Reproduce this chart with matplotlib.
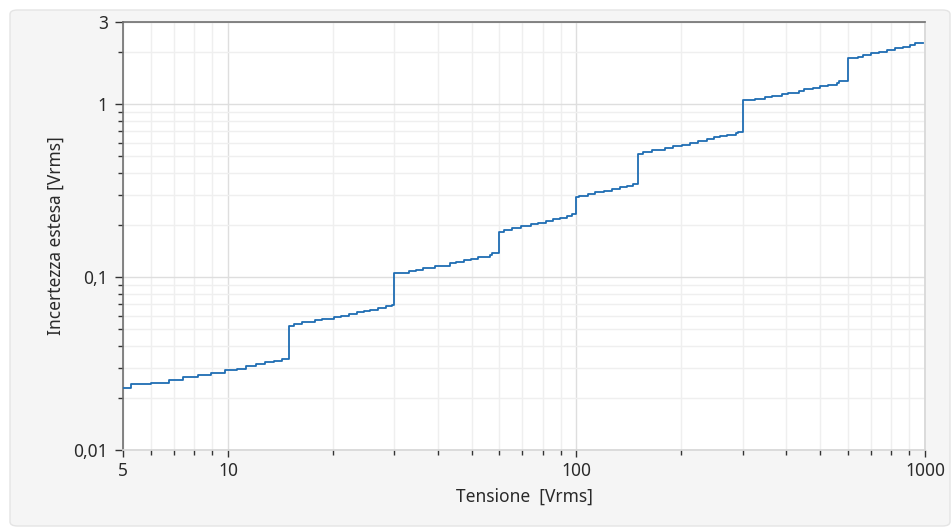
import matplotlib
matplotlib.use("Agg")
import matplotlib.pyplot as plt
from matplotlib.patches import FancyBboxPatch
from matplotlib.ticker import FixedLocator, NullFormatter

plt.rcParams['font.family'] = ['Noto Sans', 'DejaVu Sans']

# step start voltage [Vrms] and expanded uncertainty [Vrms], one list per range
volts_5 = [5, 5.27, 6.0, 6.77, 7.44, 8.2, 8.92, 9.8, 10.6, 11.3, 12.0, 12.8, 13.6, 14.3]
unc_5 = [0.0228, 0.0240, 0.0245, 0.0254, 0.0264, 0.0272, 0.0278, 0.0289, 0.0294, 0.0305, 0.0314, 0.0323, 0.0327, 0.0338]

volts_15 = [15, 15.5, 16.3, 17.8, 18.6, 20.1, 21.1, 22.3, 23.4, 24.5, 25.6, 26.9, 28.5, 29.5]
unc_15 = [0.0520, 0.0534, 0.0551, 0.0563, 0.0573, 0.0589, 0.0600, 0.0612, 0.0627, 0.0638, 0.0650, 0.0664, 0.0679, 0.0695]

volts_30 = [30, 33.1, 34.6, 36.3, 39.3, 43.4, 45.1, 47.6, 49.7, 52.3, 56.5, 57.4]
unc_30 = [0.1059, 0.1083, 0.1108, 0.1132, 0.1169, 0.1201, 0.1227, 0.1250, 0.1277, 0.1306, 0.1347, 0.1377]

volts_60 = [60, 62.0, 65.5, 69.5, 73.9, 77.6, 81.6, 85.9, 89.8, 93.8, 97.4]
unc_60 = [0.1831, 0.1880, 0.1931, 0.1975, 0.2021, 0.2064, 0.2112, 0.2160, 0.2207, 0.2257, 0.2309]

volts_100 = [100, 102.0, 107.8, 113.2, 120.3, 126.3, 132.9, 139.5, 145.1]
unc_100 = [0.2902, 0.2969, 0.3035, 0.3101, 0.3172, 0.3245, 0.3315, 0.3391, 0.3469]

volts_150 = [150, 155.5, 164.3, 179.4, 188.8, 200.3, 211.7, 223.7, 236.4, 248.7, 258.1, 269.8, 287.0, 290.2]
unc_150 = [0.5178, 0.5318, 0.5463, 0.5610, 0.5731, 0.5862, 0.6021, 0.6184, 0.6326, 0.6462, 0.6549, 0.6673, 0.6791, 0.6947]

volts_300 = [300, 324.8, 346.9, 365.1, 390.0, 404.8, 435.3, 450.0, 477.5, 499.2, 525.3, 557.6, 567.2]
unc_300 = [1.055, 1.079, 1.102, 1.123, 1.147, 1.169, 1.194, 1.221, 1.250, 1.277, 1.301, 1.329, 1.365]

volts_600 = [600, 643.3, 664.9, 698.2, 739.1, 779.4, 819.7, 862.6, 905.6, 935.8, 985]
unc_600 = [1.848, 1.890, 1.931, 1.975, 2.021, 2.064, 2.112, 2.160, 2.207, 2.257, 2.257]

volts = volts_5 + volts_15 + volts_30 + volts_60 + volts_100 + volts_150 + volts_300 + volts_600
unc = unc_5 + unc_15 + unc_30 + unc_60 + unc_100 + unc_150 + unc_300 + unc_600

x_major = [5, 10, 100, 1000]
x_labels = ['5', '10', '100', '1000']
x_minor = [6, 7, 8, 9] + [20, 30, 40, 50, 60, 70, 80, 90] + [200, 300, 400, 500, 600, 700, 800, 900]
y_major = [0.01, 0.1, 1, 3]
y_labels = ['0,01', '0,1', '1', '3']
y_minor = [0.02, 0.03, 0.04, 0.05, 0.06, 0.07, 0.08, 0.09,
           0.2, 0.3, 0.4, 0.5, 0.6, 0.7, 0.8, 0.9, 2]

fig = plt.figure(figsize=(9.51, 5.27), dpi=100)
fig.patch.set_facecolor('white')
panel = FancyBboxPatch((10 / 951, 1 - 526 / 527), 940 / 951, 516 / 527,
                       boxstyle='round,pad=0,rounding_size=0.008',
                       transform=fig.transFigure, facecolor='#f5f5f5',
                       edgecolor='#e4e4e4', linewidth=1.0, zorder=-10)
fig.add_artist(panel)

ax = fig.add_axes([123 / 951, 1 - 450 / 527, 802 / 951, 428 / 527])
ax.set_zorder(5)
ax.set_facecolor('white')
ax.set_xscale('log')
ax.set_yscale('log')

ax.step(volts, unc, where='post', color='#1f6db3', linewidth=1.3, zorder=3)

ax.set_xlim(5, 1000)
ax.set_ylim(0.01, 3)

ax.xaxis.set_major_locator(FixedLocator(x_major))
ax.xaxis.set_minor_locator(FixedLocator(x_minor))
ax.set_xticklabels(x_labels)
ax.xaxis.set_minor_formatter(NullFormatter())
ax.yaxis.set_major_locator(FixedLocator(y_major))
ax.yaxis.set_minor_locator(FixedLocator(y_minor))
ax.set_yticklabels(y_labels)
ax.yaxis.set_minor_formatter(NullFormatter())

ax.grid(which='major', color='#dedede', linewidth=1.0, zorder=1)
ax.grid(which='minor', color='#efefef', linewidth=1.0, zorder=1)

for side in ['left', 'top']:
    ax.spines[side].set_color('#707070')
    ax.spines[side].set_linewidth(1.2)
for side in ['right', 'bottom']:
    ax.spines[side].set_color('#d6d6d6')
    ax.spines[side].set_linewidth(1.2)

ax.tick_params(axis='y', which='major', length=6, width=1.0, color='#333333',
               labelsize=12.5, labelcolor='#2a2a2a', pad=5)
ax.tick_params(axis='y', which='minor', length=3.5, width=1.0, color='#333333')
ax.tick_params(axis='x', which='major', length=5, width=1.0, color='#333333',
               labelsize=12.5, labelcolor='#2a2a2a', pad=4)
ax.tick_params(axis='x', which='minor', length=3.5, width=1.0, color='#333333')

ax.set_xlabel('Tensione  [Vrms]', fontsize=12.5, color='#2a2a2a', labelpad=5)
ax.set_ylabel('Incertezza estesa [Vrms]', fontsize=12.5, color='#2a2a2a', labelpad=6)

fig.savefig('out.png', dpi=100)
